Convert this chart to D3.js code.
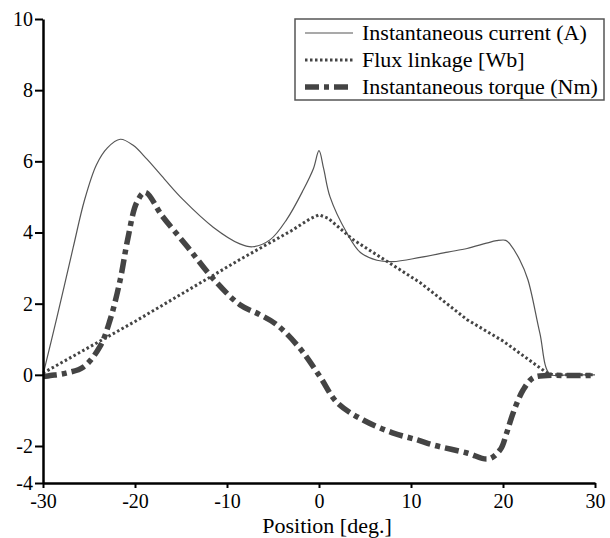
<!DOCTYPE html>
<html>
<head>
<meta charset="utf-8">
<script src="https://cdn.jsdelivr.net/npm/d3@7"></script>
<style>
  body { margin: 0; background: #fff; }
  svg text { font-family: "Liberation Serif", "Times New Roman", Times, serif !important; fill: #000; }
</style>
</head>
<body>
<svg id="plot" width="610" height="538"></svg>
<script>
// Values
const currentX = [-30, -28.5, -26.7, -25.5, -24.2, -23.0, -21.6, -20.2, -18.7, -16.8, -14.8, -11.5, -8.6, -7.2, -5.3, -3.5, -1.7, -0.6, 0, 0.5, 1.2, 3.0, 4.5, 6.3, 8.0, 11.0, 14.0, 16.1, 18.2, 19.3, 20.3, 20.8, 21.8, 22.7, 24.0, 25.1, 27, 30];
const currentY = [0, 1.6, 3.6, 4.9, 5.9, 6.38, 6.62, 6.45, 6.06, 5.5, 4.93, 4.15, 3.68, 3.6, 3.8, 4.37, 5.2, 5.8, 6.3, 5.8, 5.0, 4.0, 3.44, 3.22, 3.18, 3.3, 3.45, 3.55, 3.7, 3.77, 3.78, 3.66, 3.24, 2.68, 1.18, 0.02, 0, 0];

const fluxX = [-30, -20, -8.6, -3, -1, 0, 1, 3.7, 11.0, 16.1, 20, 24.8, 25.5, 30];
const fluxY = [0.05, 1.5, 3.24, 4.05, 4.38, 4.5, 4.4, 3.8, 2.59, 1.55, 0.95, 0.05, 0, 0];

const torqueX = [-30, -29.2, -27.5, -25.6, -23.8, -22.7, -21.6, -20.8, -19.8, -18.9, -17.0, -14.3, -11.5, -8.6, -6.5, -4.6, -2.1, 0.1, 2.0, 4.8, 8.0, 10.7, 12.4, 16.1, 18.4, 19.7, 20.4, 21.1, 22.2, 23.3, 24.8, 27, 30];
const torqueY = [-0.05, -0.02, 0.05, 0.22, 0.8, 1.55, 2.68, 3.8, 4.85, 5.13, 4.45, 3.6, 2.7, 1.97, 1.7, 1.41, 0.75, -0.05, -0.79, -1.27, -1.63, -1.83, -1.97, -2.38, -2.7, -2.2, -1.63, -1.07, -0.42, -0.08, -0.02, -0.02, -0.02];

const xTicks = [-30, -20, -10, 0, 10, 20, 30];
const yTicks = [-4, -2, 0, 2, 4, 6, 8, 10];

const legendLabels = ["Instantaneous current (A)", "Flux linkage [Wb]", "Instantaneous torque (Nm)"];

const svg = d3.select("#plot");
const margin = { top: 19, right: 15, bottom: 55, left: 43 };
const width = 610 - margin.left - margin.right;
const height = 538 - margin.top - margin.bottom;

const x = d3.scaleLinear().domain([-30, 30]).range([0, width]);
// the bottom of the y axis is squeezed in the original: -4..-2 takes half the room of the other steps
const y = d3.scaleLinear().domain([-4, -2, 10]).range([height, height - 37, 0]);

const g = svg.append("g").attr("transform", "translate(" + margin.left + "," + margin.top + ")");

// Series
const series = [
  { xs: currentX, ys: currentY, width: 1.2, dash: null, color: "#555", curve: d3.curveCatmullRom.alpha(0.5) },
  { xs: fluxX, ys: fluxY, width: 3, dash: "2.5,2.5", color: "#444", curve: d3.curveLinear },
  { xs: torqueX, ys: torqueY, width: 5.5, dash: "14,5,5,5", color: "#444", curve: d3.curveCatmullRom.alpha(0.5) }
];

series.forEach(function (s) {
  const pts = s.xs.map((v, i) => [v, s.ys[i]]);
  const line = d3.line().x(d => x(d[0])).y(d => y(d[1])).curve(s.curve);
  g.append("path")
    .attr("d", line(pts))
    .attr("fill", "none")
    .attr("stroke", s.color)
    .attr("stroke-width", s.width)
    .attr("stroke-dasharray", s.dash);
});

// X axis
const xAxis = g.append("g")
  .attr("transform", "translate(0," + height + ")")
  .call(d3.axisBottom(x).tickValues(xTicks).tickFormat(d => String(d)).tickSize(5).tickPadding(6).tickSizeOuter(0));
xAxis.select(".domain").attr("stroke-width", 2.5);
xAxis.selectAll(".tick line").attr("stroke-width", 2);
xAxis.selectAll("text").attr("font-size", "20px");

// Y axis
const yAxis = g.append("g")
  .call(d3.axisLeft(y).tickValues(yTicks).tickFormat(d => String(d)).tickSize(8).tickPadding(2).tickSizeOuter(0));
yAxis.select(".domain").attr("stroke-width", 2.5);
yAxis.selectAll(".tick line").attr("stroke-width", 2);
yAxis.selectAll("text").attr("font-size", "20px");

// X axis title
svg.append("text")
  .attr("x", margin.left + width / 2 + 8)
  .attr("y", 533)
  .attr("text-anchor", "middle")
  .attr("font-size", "22px")
  .text("Position [deg.]");

// Legend
const legend = svg.append("g").attr("transform", "translate(295,19)");
legend.append("rect")
  .attr("width", 309).attr("height", 81)
  .attr("fill", "#fff")
  .attr("stroke", "#555")
  .attr("stroke-width", 1.5);

legendLabels.forEach(function (label, i) {
  const s = series[i];
  const ly = 14 + i * 27;
  legend.append("line")
    .attr("x1", 10).attr("x2", 58)
    .attr("y1", ly).attr("y2", ly)
    .attr("stroke", s.color)
    .attr("stroke-width", s.width)
    .attr("stroke-dasharray", s.dash);
  legend.append("text")
    .attr("x", 67)
    .attr("y", ly + 7)
    .attr("font-size", "22px")
    .text(label);
});
</script>
</body>
</html>
